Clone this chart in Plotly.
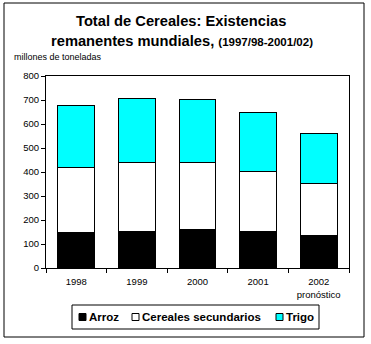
import plotly.graph_objects as go

# Stock data (millions of tonnes), stacked
years = ["1998", "1999", "2000", "2001", "2002<br>pronóstico"]
series_names = ["Arroz", "Cereales secundarios", "Trigo"]
series_colors = ["black", "white", "#00FFFF"]
arroz = [150, 154, 162, 154, 134]
secundarios_top = [420, 440, 440, 403, 353]
total_top = [679, 705, 703, 649, 562]

secundarios = [s - a for s, a in zip(secundarios_top, arroz)]
trigo = [t - s for t, s in zip(total_top, secundarios_top)]

W, H = 371, 344
L, R, T, B = 46, 22, 76, 76
pw, ph = W - L - R, H - T - B

def px(x):
    return (x - L) / pw

def py(y):
    return (H - B - y) / ph

FONT = "Liberation Sans, Arial, sans-serif"
line = dict(color="black", width=1)

fig = go.Figure()
for name, color, vals in zip(series_names, series_colors, [arroz, secundarios, trigo]):
    fig.add_trace(go.Bar(x=years, y=vals, name=name, showlegend=False,
                         marker=dict(color=color, line=line)))

shapes = [
    # outer frame
    dict(type="rect", xref="paper", yref="paper",
         x0=px(4), x1=px(364), y0=py(337), y1=py(3),
         line=dict(color="black", width=1), fillcolor="rgba(0,0,0,0)"),
    # legend box
    dict(type="rect", xref="paper", yref="paper",
         x0=px(72), x1=px(319), y0=py(329), y1=py(305),
         line=dict(color="black", width=1), fillcolor="white"),
]
annotations = [
    dict(text="<b>Total de Cereales: Existencias</b>", xref="paper", yref="paper",
         x=px(181), y=py(21), xanchor="center", yanchor="middle", showarrow=False,
         font=dict(size=14.7, family=FONT)),
    dict(text="<b>remanentes mundiales, </b><span style='font-size:11.5px'><b>(1997/98-2001/02)</b></span>",
         xref="paper", yref="paper",
         x=px(182), y=py(41), xanchor="center", yanchor="middle", showarrow=False,
         font=dict(size=14.7, family=FONT)),
    dict(text="millones de toneladas", xref="paper", yref="paper",
         x=px(12), y=py(57), xanchor="left", yanchor="middle", showarrow=False,
         font=dict(size=9, family=FONT)),
]

# legend entries: small swatch followed by bold label
legend_x = [79, 132, 276]
ly = 317
for x0, name, color in zip(legend_x, series_names, series_colors):
    shapes.append(dict(type="rect", xref="paper", yref="paper",
                       x0=px(x0), x1=px(x0 + 7), y0=py(ly + 3.5), y1=py(ly - 3.5),
                       line=dict(color="black", width=1), fillcolor=color))
    annotations.append(dict(text="<b>" + name + "</b>", xref="paper", yref="paper",
                            x=px(x0 + 8), y=py(ly), xanchor="left", yanchor="middle",
                            showarrow=False, font=dict(size=11.5, family=FONT)))

fig.update_layout(
    width=W, height=H,
    margin=dict(l=L, r=R, t=T, b=B, autoexpand=False),
    barmode="stack", bargap=0.39,
    plot_bgcolor="white", paper_bgcolor="white",
    font=dict(family=FONT, color="black", size=10),
    showlegend=False,
    xaxis=dict(type="category", showline=True, linecolor="black", linewidth=1, mirror=True,
               ticks="outside", tickson="boundaries", ticklen=4, tickcolor="black",
               tickfont=dict(size=9.5), ticklabelstandoff=5, showgrid=False),
    yaxis=dict(range=[0, 800], dtick=100, showline=True, linecolor="black", linewidth=1, mirror=True,
               ticks="outside", ticklen=4, tickcolor="black", tickfont=dict(size=9.5),
               showgrid=False, zeroline=False),
    shapes=shapes,
    annotations=annotations,
)

fig.write_html("out.html")
